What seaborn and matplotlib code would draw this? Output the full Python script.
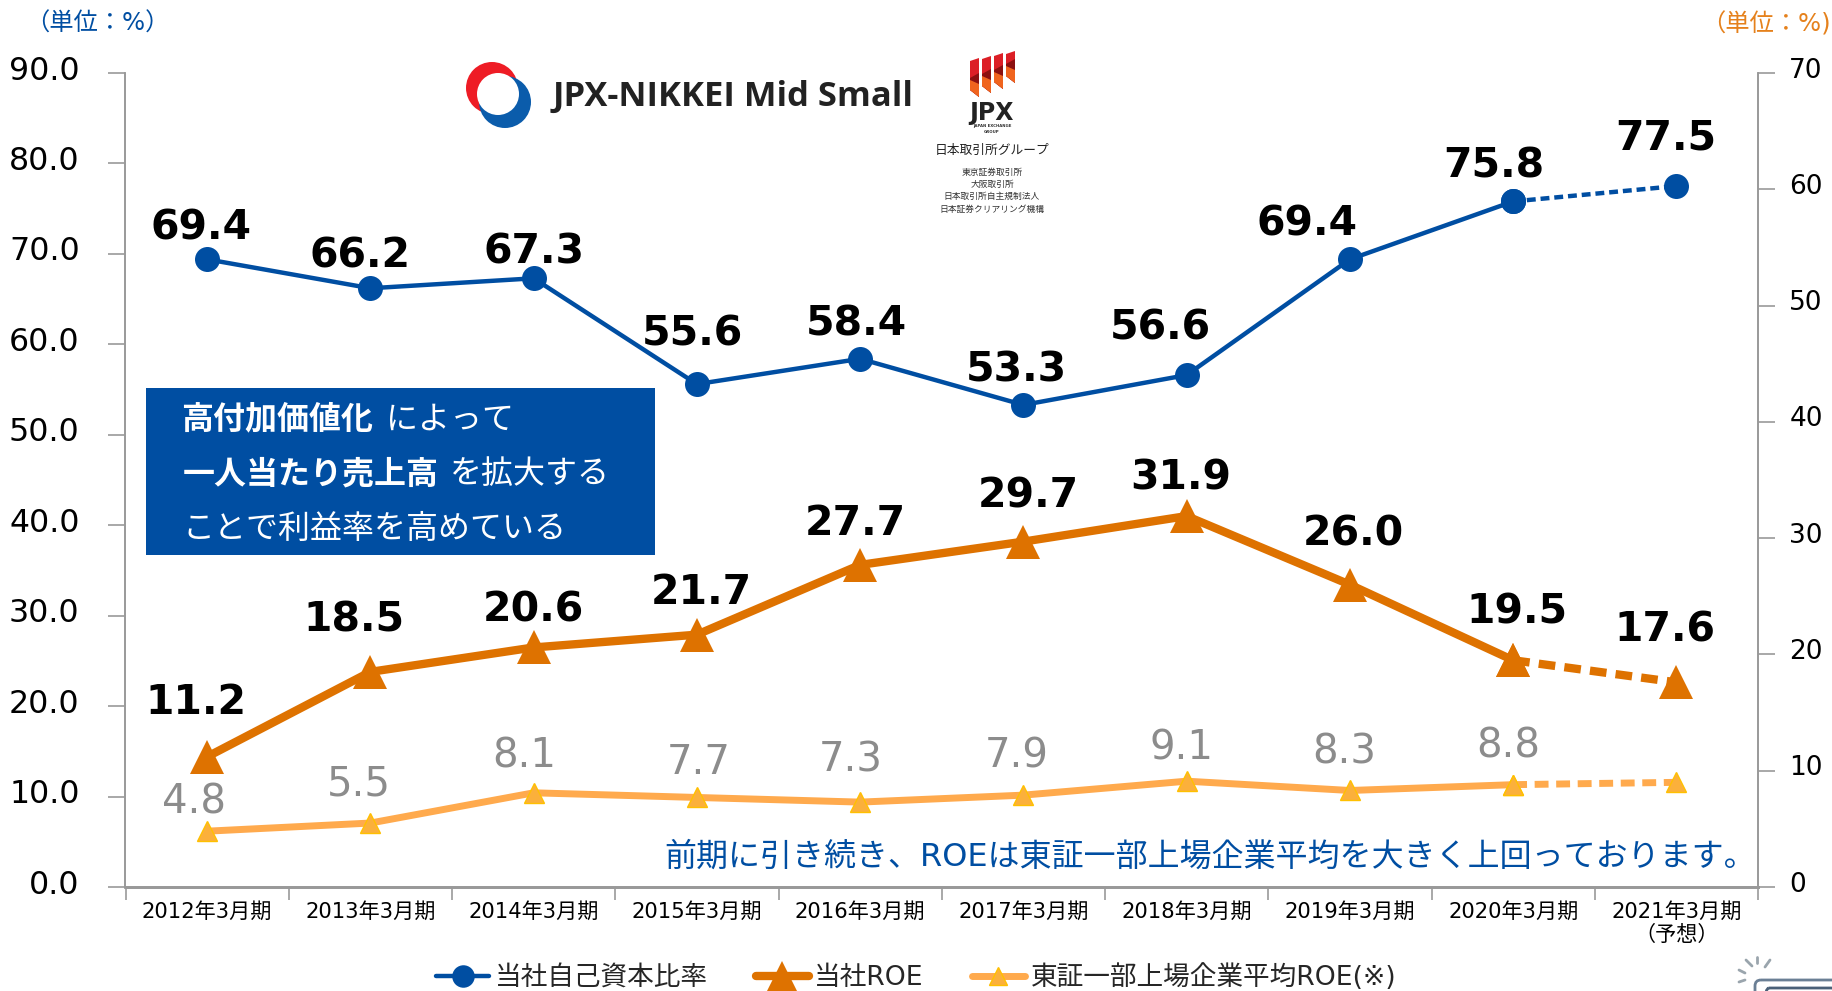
"""ROE and equity ratio, fiscal 2012 to 2021 (forecast)"""

import matplotlib.pyplot as plt
from matplotlib.patches import Circle, FancyBboxPatch, Polygon, Rectangle
from matplotlib.transforms import ScaledTranslation
import seaborn as sns

sns.set_style("white")
plt.rcParams['font.family'] = ['DejaVu Sans', 'Noto Sans CJK JP']

periods = ['2012年3月期', '2013年3月期', '2014年3月期', '2015年3月期', '2016年3月期',
           '2017年3月期', '2018年3月期', '2019年3月期', '2020年3月期', '2021年3月期']
period_labels = periods[:-1] + ['2021年3月期\n（予想）']
equity_ratio = [69.4, 66.2, 67.3, 55.6, 58.4, 53.3, 56.6, 69.4, 75.8, 77.5]
company_roe = [11.2, 18.5, 20.6, 21.7, 27.7, 29.7, 31.9, 26.0, 19.5, 17.6]
tse_roe = [4.8, 5.5, 8.1, 7.7, 7.3, 7.9, 9.1, 8.3, 8.8, 9.0]
left_ticks = [0, 10, 20, 30, 40, 50, 60, 70, 80, 90]
right_ticks = [0, 10, 20, 30, 40, 50, 60, 70]

BLUE = '#004EA2'
ORANGE = '#DE7200'
LIGHT = '#FFAA4D'
GRAY_AXIS = '#999999'
W, H = 1833, 991

fig = plt.figure(figsize=(W / 100, H / 100), dpi=100)
ax = fig.add_axes([125.5 / W, 1 - 887 / H, (1758 - 125.5) / W, (887 - 73) / H])
ax2 = ax.twinx()


def draw(axis, values, label, **style):
    # last segment is the forecast, so it is drawn dashed on its own
    sns.lineplot(x=periods[:9], y=values[:9], ax=axis, label=label, sort=False,
                 solid_capstyle='round', **style)
    sns.lineplot(x=periods[8:], y=values[8:], ax=axis, sort=False,
                 linestyle=(0, (2.0, 1.1)), **style)


draw(ax, equity_ratio, '当社自己資本比率', color=BLUE, linewidth=3.2, marker='o',
     markersize=18, markeredgecolor=BLUE, markeredgewidth=0)
draw(ax2, company_roe, '当社ROE', color=ORANGE, linewidth=6, marker='^',
     markersize=24, markeredgecolor=ORANGE, markeredgewidth=0)
draw(ax2, tse_roe, '東証一部上場企業平均ROE(※)', color=LIGHT, linewidth=5, marker='^',
     markersize=15, markerfacecolor='#FBB03B', markeredgecolor='#FFC000', markeredgewidth=1)

handles = ax.get_legend_handles_labels()
handles2 = ax2.get_legend_handles_labels()
ax.get_legend().remove()
ax2.get_legend().remove()

ax.set_xlim(-0.5, 9.5)
ax.set_ylim(0, 90)
ax2.set_ylim(0, 70)
ax.set_yticks(left_ticks)
ax.set_yticklabels([f'{t:.1f}' for t in left_ticks], fontsize=22.8, color='black')
ax2.set_yticks(right_ticks)
ax2.set_yticklabels([str(t) for t in right_ticks], fontsize=19, color='black')
ax.set_xticks([i - 0.5 for i in range(11)])
ax.set_xticklabels([])
ax.set_xticks(range(10), minor=True)
ax.set_xticklabels(period_labels, minor=True, fontsize=15.2, color='black', linespacing=1.15)
ax.tick_params(axis='x', which='major', length=9, width=1.2, color=GRAY_AXIS, bottom=True)
ax.tick_params(axis='x', which='minor', length=0, pad=11)
ax.tick_params(axis='y', length=12, width=1.2, color=GRAY_AXIS, left=True, pad=21)
ax2.tick_params(axis='y', length=12, width=1.2, color=GRAY_AXIS, right=True, pad=10.5)
ax.set_xlabel('')
ax.set_ylabel('')
ax2.set_ylabel('')

# the value labels sit a little above their tick marks
lift = ScaledTranslation(0, 0.055, fig.dpi_scale_trans)
for lab in ax.get_yticklabels() + ax2.get_yticklabels():
    lab.set_transform(lab.get_transform() + lift)

for a in (ax, ax2):
    a.grid(False)
    a.patch.set_alpha(0)
    a.spines['top'].set_visible(False)
    for side in ('left', 'right'):
        a.spines[side].set_color(GRAY_AXIS)
        a.spines[side].set_linewidth(1.2)
    a.spines['bottom'].set_color(GRAY_AXIS)
    a.spines['bottom'].set_linewidth(2)

fig.legend(handles[0] + handles2[0], handles[1] + handles2[1], loc='center',
           bbox_to_anchor=(916 / W, 1 - 978 / H), ncol=3, frameon=False, fontsize=19.2,
           handlelength=2.0, handletextpad=0.2, columnspacing=1.8, borderpad=0, markerscale=0.9)

# overlay in reference pixels for labels, box and logos
over = fig.add_axes([0, 0, 1, 1], zorder=5)
over.set_xlim(0, W)
over.set_ylim(H, 0)
over.axis('off')

equity_x = [201, 360, 534, 692, 856, 1016, 1160, 1307, 1494, 1666]
equity_y = [228, 257, 252, 334, 325, 370, 328, 225, 167, 139]
roe_x = [196, 354, 533, 701, 855, 1028, 1181, 1353, 1517, 1665]
roe_y = [703, 621, 611, 593, 524, 497, 478, 534, 613, 631]
tse_x = [194, 359, 524, 699, 851, 1017, 1182, 1344, 1508]
tse_y = [803, 784, 757, 763, 760, 756, 748, 753, 746]

for x, y, v in zip(equity_x, equity_y, equity_ratio):
    over.text(x, y, f'{v:.1f}', fontsize=29.5, fontweight='bold', color='black', ha='center', va='center')
for x, y, v in zip(roe_x, roe_y, company_roe):
    over.text(x, y, f'{v:.1f}', fontsize=29.5, fontweight='bold', color='black', ha='center', va='center')
for x, y, v in zip(tse_x, tse_y, tse_roe):
    over.text(x, y, f'{v:.1f}', fontsize=29, color='#8C8C8C', ha='center', va='center')

over.text(25, 24, '（単位：%）', fontsize=17.5, color=BLUE, ha='left', va='center')
over.text(1831, 24, '（単位：%)', fontsize=17.5, color='#E5811C', ha='right', va='center')
over.text(1756, 857, '前期に引き続き、ROEは東証一部上場企業平均を大きく上回っております。',
          fontsize=23, color=BLUE, ha='right', va='center')

# blue message box
over.add_patch(Rectangle((146, 388), 509, 167, color=BLUE, lw=0))
over.text(181, 420, '高付加価値化', fontsize=23, fontweight='bold', color='white', va='center')
over.text(386, 420, 'によって', fontsize=23, color='white', va='center')
over.text(183, 475, '一人当たり売上高', fontsize=23, fontweight='bold', color='white', va='center')
over.text(450, 475, 'を拡大する', fontsize=23, color='white', va='center')
over.text(182, 529, 'ことで利益率を高めている', fontsize=23, color='white', va='center')

# JPX-Nikkei logo: two offset discs with a white one on top
over.add_patch(Circle((492, 88), 26, color='#EE1C25', lw=0))
over.add_patch(Circle((505, 102), 26, color='#0B5CAB', lw=0))
over.add_patch(Circle((498, 94), 21, color='white', lw=0))
over.text(553, 97, 'JPX-NIKKEI Mid Small', fontsize=24.8, fontweight='bold', color='#222222',
          family='Open Sans', va='center', stretch='condensed')

# JPX group logo
bar_tops = [58, 56, 53, 51]
bar_ends = [97, 93, 89, 83]
for i, (top, end) in enumerate(zip(bar_tops, bar_ends)):
    x0 = 970 + i * 12
    over.add_patch(Polygon([(x0, top + 3), (x0 + 9, top), (x0 + 9, end), (x0, end - 7)], color='#DC1F26', lw=0))
    over.add_patch(Polygon([(x0, end - 19), (x0 + 9, end - 24), (x0 + 9, end), (x0, end - 7)], color='#8C1010', lw=0))
    over.add_patch(Polygon([(x0, end - 17), (x0 + 9, end - 13), (x0 + 9, end), (x0, end - 7)], color='#F0641E', lw=0))
over.text(992, 113, 'JPX', fontsize=17, fontweight='bold', color='#222222', ha='center', va='center')
over.text(992, 126, 'JAPAN EXCHANGE', fontsize=2.8, fontweight='bold', color='#333333', ha='center', va='center')
over.text(992, 132, 'GROUP', fontsize=2.8, fontweight='bold', color='#333333', ha='center', va='center')
over.text(992, 150, '日本取引所グループ', fontsize=9.2, color='#222222', ha='center', va='center')
group_names = ['東京証券取引所', '大阪取引所', '日本取引所自主規制法人', '日本証券クリアリング機構']
for y, name in zip([172, 184, 196, 209], group_names):
    over.text(992, y, name, fontsize=6.3, color='#333333', ha='center', va='center')

# corner icon cut off by the page edge
over.add_patch(FancyBboxPatch((1755, 980), 90, 30, boxstyle='round,pad=0,rounding_size=6',
                              fill=False, edgecolor='#6A7F95', linewidth=2))
over.add_patch(FancyBboxPatch((1765, 988), 70, 20, boxstyle='round,pad=0,rounding_size=4',
                              fill=False, edgecolor='#4A6078', linewidth=2))
for (x0, y0, x1, y1) in [(1739, 970, 1745, 973), (1739, 982, 1745, 980), (1746, 960, 1752, 966),
                         (1757, 957, 1757, 963), (1765, 967, 1770, 960)]:
    over.plot([x0, x1], [y0, y1], color='#9AA5AD', linewidth=2)

fig.savefig('out.png', dpi=100)
